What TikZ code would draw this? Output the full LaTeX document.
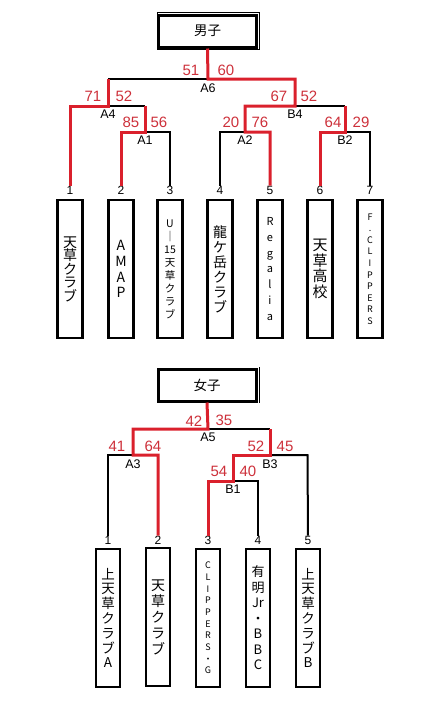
\documentclass[tikz,border=0pt]{standalone}
\usepackage{fontspec}
\setmainfont{Liberation Sans}
\newfontfamily\jp{Noto Sans CJK JP}
\definecolor{redline}{RGB}{218,32,44}
\definecolor{rednum}{RGB}{205,48,58}
\begin{document}
\begin{tikzpicture}[x=1pt,y=-1pt,
  blk/.style={line width=2pt,black},
  rd/.style={line width=3pt,redline},
  tbox/.style={draw,line width=2.2pt,minimum width=25pt,minimum height=138pt,inner sep=0pt,align=center},
  num/.style={text=rednum,font=\fontsize{15}{15}\selectfont,inner sep=0pt},
  mlab/.style={font=\fontsize{12.5}{13}\selectfont,inner sep=0pt},
  tnum/.style={font=\fontsize{12}{12}\selectfont,inner sep=0pt},
  ttl/.style={draw,line width=3pt,minimum width=98pt,minimum height=32pt,inner sep=0pt,font=\jp\fontsize{13.5}{13.5}\selectfont}]
\useasboundingbox (0,0) rectangle (436,705);
% ---------------- Men ----------------
\draw[line width=0.8pt] (157.5,12.5) rectangle (259.8,49.5);
\node[ttl] (mt) at (207.5,31) {男子};
% team numbers
\foreach \i/\x in {1/70,2/121,3/170,4/220,5/270,6/320,7/370}{
  \node[tnum] (mn\i) at (\x,190) {\i};
}
\node[tbox,font=\jp\fontsize{14}{13.5}\selectfont] (mb1) at (70,269) {天\\草\\ク\\ラ\\ブ};
\node[tbox,font=\jp\fontsize{14}{15.9}\selectfont] (mb2) at (121,269) {A\\M\\A\\P};
\node[tbox,font=\jp\fontsize{10.5}{13}\selectfont] (mb3) at (170,269) {U\\｜\\15\\天\\草\\ク\\ラ\\ブ};
\node[tbox,font=\jp\fontsize{14}{15}\selectfont] (mb4) at (220,269) {龍\\ケ\\岳\\ク\\ラ\\ブ};
\node[tbox,font=\jp\fontsize{11}{15.8}\selectfont] (mb5) at (270,269) {R\\e\\g\\a\\l\\i\\a};
\node[tbox,font=\jp\fontsize{15}{15.5}\selectfont] (mb6) at (320,269) {天\\草\\高\\校};
\node[tbox,font=\jp\fontsize{9}{11.6}\selectfont] (mb7) at (370,269) {F\\.\\C\\L\\I\\P\\P\\E\\R\\S};
% junctions
\coordinate (a6) at (208,79); \coordinate (a6l) at (108,79); \coordinate (a6r) at (295,79);
\coordinate (a4l) at (70,106); \coordinate (a4) at (108,106); \coordinate (a4r) at (145,106);
\coordinate (a1l) at (121,132); \coordinate (a1) at (145,132); \coordinate (a1r) at (170,132);
\coordinate (b4l) at (245,106); \coordinate (b4) at (295,106); \coordinate (b4r) at (345,106);
\coordinate (a2l) at (220,132); \coordinate (a2) at (245,132); \coordinate (a2r) at (270,132);
\coordinate (b2l) at (320,132); \coordinate (b2) at (345,132); \coordinate (b2r) at (370,132);
% black
\draw[blk] (a6l) -- (a6);
\draw[blk] (a4) -- (a4r);
\draw[blk] (a1) -- (a1r) -- (mn3.north);
\draw[blk] (mn4.north) -- (a2l) -- (a2);
\draw[blk] (b4) -- (b4r);
\draw[blk] (b2) -- (b2r) -- (mn7.north);
% red
\draw[rd] (mt.south) -- (a6) -- (a6r) -- (b4) -- (b4l) -- (a2) -- (a2r) -- (mn5.north);
\draw[rd] (a6l) -- (a4) -- (a4l) -- (mn1.north);
\draw[rd] (a4r) -- (a1) -- (a1l) -- (mn2.north);
\draw[rd] (b4r) -- (b2) -- (b2l) -- (mn6.north);
% scores
\node[num] (s51) at (191,70) {51}; \node[num] (s60) at (226,70) {60};
\node[num] (s71) at (93,96) {71};  \node[num] (s52a) at (124,96) {52};
\node[num] (s85) at (131,122) {85}; \node[num] (s56) at (159,122) {56};
\node[num] (s20) at (231,122) {20}; \node[num] (s76) at (260,122) {76};
\node[num] (s67) at (279,96) {67};  \node[num] (s52b) at (309,96) {52};
\node[num] (s64) at (333,122) {64}; \node[num] (s29) at (361,122) {29};
\node[mlab] (la6) at (208,88) {A6};
\node[mlab] (la4) at (108,114) {A4};
\node[mlab] (la1) at (145,140) {A1};
\node[mlab] (lb4) at (295,114) {B4};
\node[mlab] (la2) at (245,140) {A2};
\node[mlab] (lb2) at (345,140) {B2};
% ---------------- Women ----------------
\draw[line width=0.8pt] (259.5,367) -- (259.5,403);
\node[ttl] (wt) at (207,385) {女子};
\foreach \i/\x in {1/108,2/158,3/208,4/258,5/308}{
  \node[tnum] (wn\i) at (\x,540) {\i};
}
\node[tbox,minimum width=24pt,font=\jp\fontsize{13.5}{14.8}\selectfont] (wb1) at (108,618) {上\\天\\草\\ク\\ラ\\ブ\\A};
\node[tbox,minimum width=24pt,font=\jp\fontsize{14}{16}\selectfont] (wb2) at (158,617) {天\\草\\ク\\ラ\\ブ};
\node[tbox,minimum width=24pt,font=\jp\fontsize{9}{11.7}\selectfont] (wb3) at (208,618) {C\\L\\I\\P\\P\\E\\R\\S\\・\\G};
\node[tbox,minimum width=24pt,font=\jp\fontsize{13}{15.5}\selectfont] (wb4) at (258,618) {有\\明\\Jr\\・\\B\\B\\C};
\node[tbox,minimum width=24pt,font=\jp\fontsize{13.5}{14.8}\selectfont] (wb5) at (308,618) {上\\天\\草\\ク\\ラ\\ブ\\B};
\coordinate (a5l) at (133,429); \coordinate (a5) at (208,429); \coordinate (a5r) at (270,429);
\coordinate (a3l) at (108,455); \coordinate (a3) at (133,455); \coordinate (a3r) at (158,455);
\coordinate (b3l) at (233,455); \coordinate (b3) at (270,455); \coordinate (b3r) at (307.5,455);
\coordinate (b1l) at (208,481); \coordinate (b1) at (233,481); \coordinate (b1r) at (258,481);
\draw[blk] (a5) -- (a5r);
\draw[blk] (a3) -- (a3l) -- (wn1.north);
\draw[blk] (b3) -- (b3r) -- (wn5.north);
\draw[blk] (b1) -- (b1r) -- (wn4.north);
\draw[rd] (wt.south) -- (a5) -- (a5l) -- (a3) -- (a3r) -- (wn2.north);
\draw[rd] (a5r) -- (b3) -- (b3l) -- (b1) -- (b1l) -- (wn3.north);
\node[num] (s42) at (194,421) {42}; \node[num] (s35) at (224,420) {35};
\node[num] (s41) at (117,446) {41}; \node[num] (s64w) at (153,446) {64};
\node[num] (s52w) at (256,446) {52}; \node[num] (s45) at (285,446) {45};
\node[num] (s54) at (219,471) {54}; \node[num] (s40) at (248,471) {40};
\node[mlab] (la5) at (208,437) {A5};
\node[mlab] (la3) at (133,464) {A3};
\node[mlab] (lb3) at (270,464) {B3};
\node[mlab] (lb1) at (233,489) {B1};
\end{tikzpicture}
\end{document}
